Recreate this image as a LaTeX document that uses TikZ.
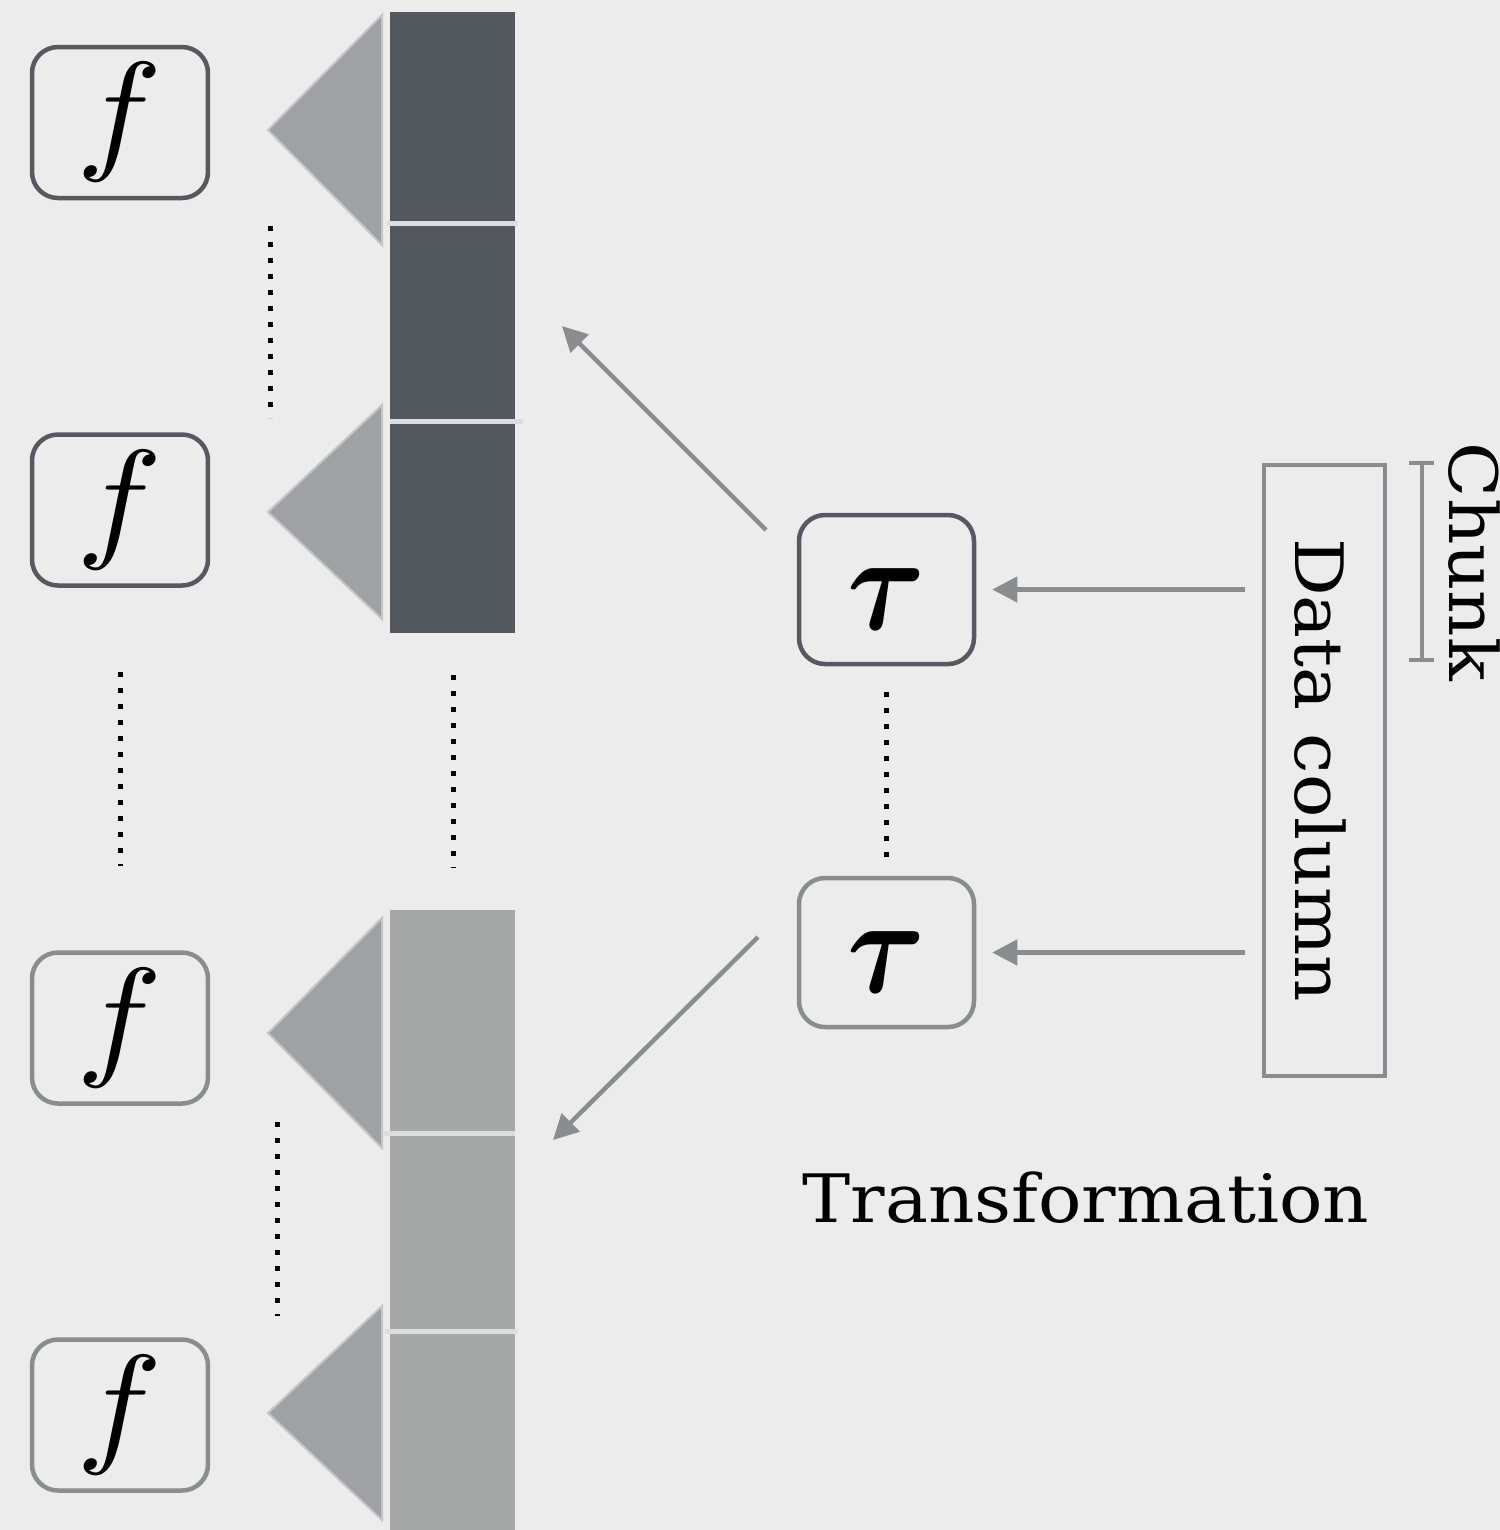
\documentclass[tikz,border=0pt]{standalone}
\usepackage{fontspec}
\usepackage{graphicx}
\usepackage{bm}
\newfontfamily\slabfont[FakeStretch=1.08]{DejaVu Serif}
\usetikzlibrary{arrows.meta}

\definecolor{fondo}{HTML}{ECECEC}
\definecolor{oscuro}{HTML}{56595F}
\definecolor{gris}{HTML}{8A8C90}
\definecolor{barra}{HTML}{53575E}
\definecolor{claro}{HTML}{A5A7A6}
\definecolor{tri}{HTML}{A0A1A5}
\definecolor{triborde}{HTML}{C4C5C7}
\definecolor{linea}{HTML}{DCDDDE}

\begin{document}
\begin{tikzpicture}[x=0.1mm, y=-0.1mm,
	caja/.style={draw, rounded corners=2.6mm, line width=0.45mm, minimum width=17.6mm, minimum height=15.1mm, inner sep=0pt},
	tau/.style={caja, minimum width=17.5mm, minimum height=14.9mm, label={[yshift=-1mm]center:\scalebox{3.4}[3.9]{$\bm{\tau}$}}},
	flecha/.style={draw=gris, line width=0.45mm, -{Triangle[length=2.5mm, width=2.5mm]}},
	puntos/.style={line width=0.5mm, dash pattern=on 0.5mm off 1.1mm},
	texto/.style={font=\slabfont\fontsize{19}{21}\selectfont}]

\fill[fondo] (0,0) rectangle (1500,1530);
\useasboundingbox (0,0) rectangle (1500,1530);

% Funciones
	\foreach \y/\c [count=\i] in {122.5/oscuro, 510/oscuro, 1028/gris, 1415/gris}
		\node[caja, draw=\c] (f\i) at (120,\y) {\scalebox{4.1}[3.8]{$f$}};

	\foreach \y/\h in {130/115, 512/107, 1033/115, 1413/107}
		\filldraw[fill=tri, draw=triborde, line width=0.2mm] (268,\y) -- (382,\y-\h) -- (382,\y+\h) -- cycle;

% Columnas
	\fill[barra] (390,12) rectangle (515,633);
	\fill[claro] (390,910) rectangle (515,1530);

	\foreach \y/\a/\b in {223/387/518, 421/390/523, 1133/383/515, 1331/385/518}
		\draw[linea, line width=0.5mm] (\a,\y) -- (\b,\y);

	\foreach \x/\a/\b in {270/226/418, 120/672/866, 453/675/868, 277/1122/1316}
		\draw[puntos] (\x,\a) -- (\x,\b);

% Transformacion
\node[tau, draw=oscuro] (t1) at (886.5,589.5) {};
\node[tau, draw=gris] (t2) at (886.5,952.5) {};
\draw[puntos, shorten <=2.6mm, shorten >=1.8mm] (t1.south) -- (t2.north);

\node[draw=gris, line width=0.4mm, minimum width=12.1mm, minimum height=61.1mm] (columna) at (1324.5,770.5) {};
\node[texto, rotate=-90] (datos) at (1320,770) {Data column};

\draw[flecha] ([xshift=-1.7mm]columna.west |- t1) -- ([xshift=1.6mm]t1.east);
\draw[flecha] ([xshift=-1.7mm]columna.west |- t2) -- ([xshift=1.6mm]t2.east);

\coordinate (d1) at (766,530);
\coordinate (arriba) at (562,326);
\coordinate (d2) at (758,937);
\coordinate (abajo) at (553,1140);
\draw[flecha] (d1) -- (arriba);
\draw[flecha] (d2) -- (abajo);

% Chunk
\draw[gris, line width=0.4mm] (1409,463) -- (1434,463) (1422,463) -- (1422,660) (1409,660) -- (1434,660);
\node[texto, rotate=-90] (trozo) at (1474,562) {Chunk};

\node[texto] (transf) at (1086,1198) {Transformation};
\end{tikzpicture}
\end{document}
